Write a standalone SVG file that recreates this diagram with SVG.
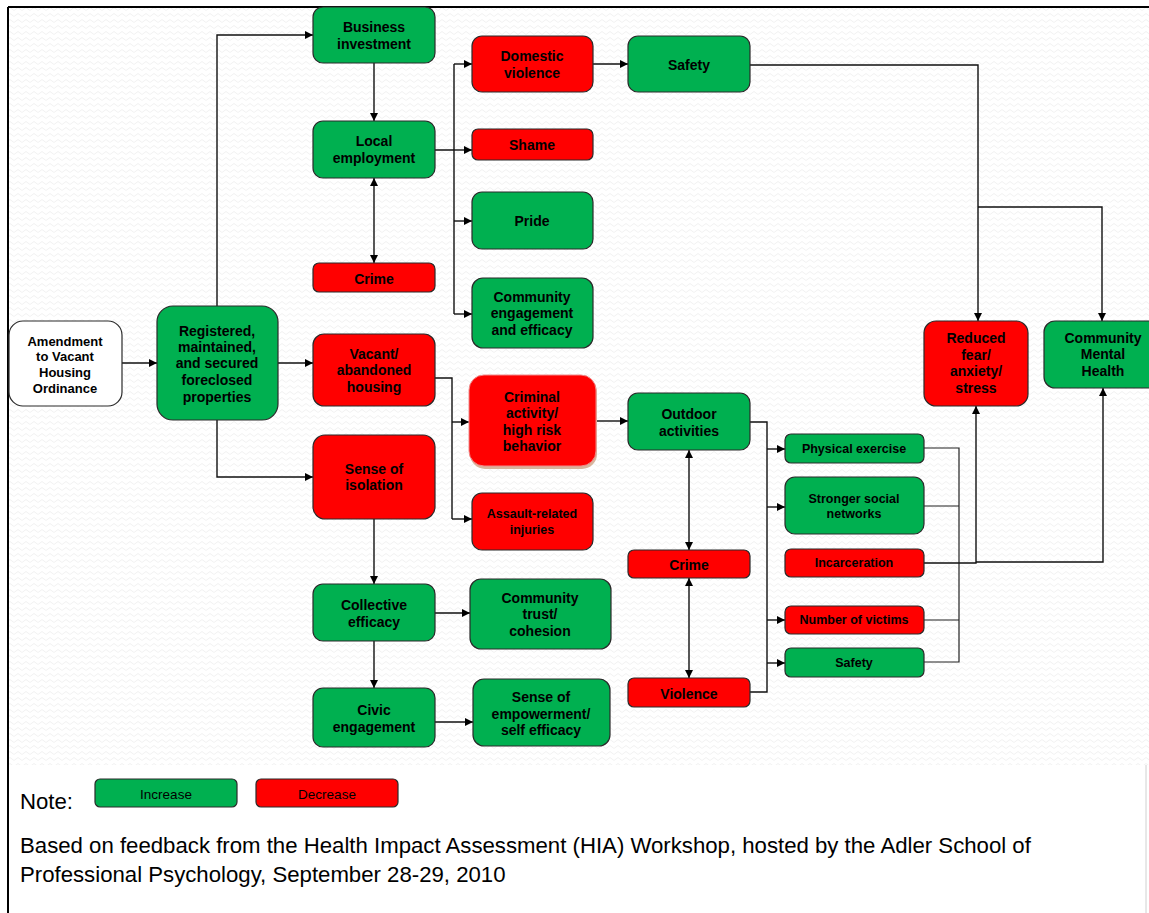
<svg xmlns="http://www.w3.org/2000/svg" width="1149" height="913" viewBox="0 0 1149 913">
<style>
.g{fill:#00B050;stroke:#2a2a2a;stroke-width:1.2}
.r{fill:#FF0000;stroke:#2a2a2a;stroke-width:1.2}
.w{fill:#ffffff;stroke:#2a2a2a;stroke-width:1.2}
text{font-family:"Liberation Sans",Arial,sans-serif;font-weight:bold;font-size:14px;fill:#000;text-anchor:middle;dominant-baseline:central}
.s{font-size:12.5px}
.m{font-size:13px}
.c path{fill:none;stroke:#111;stroke-width:1.4}
.c .t{stroke:#222;stroke-width:1.2}
.lg{font-weight:normal;font-size:13.5px}
.ft{font-weight:normal;font-size:22.2px;text-anchor:start;dominant-baseline:auto}
</style>
<defs>
<marker id="a" viewBox="0 0 10 10" refX="10" refY="5" markerWidth="9" markerHeight="8" markerUnits="userSpaceOnUse" orient="auto-start-reverse"><path d="M0,0 L10,5 L0,10 z" fill="#000"/></marker>
<pattern id="p" width="8" height="6" patternUnits="userSpaceOnUse"><path d="M0,3 Q2,0 4,3 T8,3" fill="none" stroke="#eeeeee" stroke-width="0.8"/></pattern>
</defs>
<rect x="0" y="0" width="1149" height="913" fill="#ffffff"/>
<rect x="9" y="8" width="1140" height="757" fill="url(#p)"/>
<path d="M8,7 H1149 M8,7 V913" fill="none" stroke="#000" stroke-width="2"/>
<path d="M1146,765 V913" fill="none" stroke="#d0d0d0" stroke-width="1"/>

<g class="c" id="connectors">
<path d="M122,363 H157" marker-end="url(#a)"/>
<path d="M278,363 H313" marker-end="url(#a)"/>
<path d="M217,306 V35 H313" marker-end="url(#a)"/>
<path d="M217,420 V477 H313" marker-end="url(#a)"/>
<path d="M374,63 V121" marker-end="url(#a)"/>
<path d="M374,178 V263" marker-start="url(#a)" marker-end="url(#a)"/>
<path d="M435,150 H454 M454,64 V314"/>
<path d="M454,64 H472" marker-end="url(#a)"/>
<path d="M454,150 H472" marker-end="url(#a)"/>
<path d="M454,221 H472" marker-end="url(#a)"/>
<path d="M454,314 H472" marker-end="url(#a)"/>
<path d="M435,378 H452 V519"/>
<path d="M452,422 H469" marker-end="url(#a)"/>
<path d="M452,519 H472" marker-end="url(#a)"/>
<path d="M593,64 H628" marker-end="url(#a)"/>
<path d="M750,65 H978 V321" marker-end="url(#a)"/>
<path d="M978,207 H1102 V321" marker-end="url(#a)"/>
<path d="M596,421 H628" marker-end="url(#a)"/>
<path d="M689,450 V550" marker-start="url(#a)" marker-end="url(#a)"/>
<path d="M689,578 V678" marker-start="url(#a)" marker-end="url(#a)"/>
<path d="M750,422 H767 V692 H750"/>
<path d="M767,449 H785" marker-end="url(#a)"/>
<path d="M767,507 H785" marker-end="url(#a)"/>
<path d="M767,620 H785" marker-end="url(#a)"/>
<path d="M767,663 H785" marker-end="url(#a)"/>
<path class="t" d="M924,448 H959 V662 H924 M924,506 H959 M924,620 H959"/>
<path d="M924,563 H976 V406" marker-end="url(#a)"/>
<path d="M976,562 H1103 V388" marker-end="url(#a)"/>
<path d="M374,519 V584" marker-end="url(#a)"/>
<path d="M435,613 H470" marker-end="url(#a)"/>
<path d="M374,641 V688" marker-end="url(#a)"/>
<path d="M435,722 H473" marker-end="url(#a)"/>
</g>

<g id="n-amendment"><rect class="w" x="9" y="321" width="113" height="85" rx="14"/><text class="m" x="65" y="341">Amendment</text><text class="m" x="65" y="356">to Vacant</text><text class="m" x="65" y="372">Housing</text><text class="m" x="65" y="388">Ordinance</text></g>
<g id="n-registered"><rect class="g" x="157" y="306" width="121" height="114" rx="16"/><text x="217" y="331">Registered,</text><text x="217" y="347">maintained,</text><text x="217" y="363">and secured</text><text x="217" y="380">foreclosed</text><text x="217" y="397">properties</text></g>
<g id="n-business"><rect class="g" x="313" y="7" width="122" height="56" rx="10"/><text x="374" y="27">Business</text><text x="374" y="44">investment</text></g>
<g id="n-local"><rect class="g" x="313" y="121" width="122" height="57" rx="10"/><text x="374" y="141">Local</text><text x="374" y="158">employment</text></g>
<g id="n-crime1"><rect class="r" x="313" y="263" width="122" height="29" rx="6"/><text x="374" y="279">Crime</text></g>
<g id="n-vacant"><rect class="r" x="313" y="334" width="122" height="72" rx="11"/><text x="374" y="354">Vacant/</text><text x="374" y="370">abandoned</text><text x="374" y="387">housing</text></g>
<g id="n-isolation"><rect class="r" x="313" y="435" width="122" height="84" rx="12"/><text x="374" y="469">Sense of</text><text x="374" y="485">isolation</text></g>
<g id="n-collective"><rect class="g" x="313" y="584" width="122" height="57" rx="10"/><text x="374" y="605">Collective</text><text x="374" y="622">efficacy</text></g>
<g id="n-civic"><rect class="g" x="313" y="688" width="122" height="59" rx="10"/><text x="374" y="710">Civic</text><text x="374" y="727">engagement</text></g>
<g id="n-domestic"><rect class="r" x="472" y="36" width="121" height="56" rx="10"/><text x="532" y="56">Domestic</text><text x="532" y="73">violence</text></g>
<g id="n-shame"><rect class="r" x="472" y="129" width="121" height="31" rx="6"/><text x="532" y="145">Shame</text></g>
<g id="n-pride"><rect class="g" x="472" y="192" width="121" height="57" rx="10"/><text x="532" y="221">Pride</text></g>
<g id="n-engagement"><rect class="g" x="472" y="278" width="121" height="70" rx="11"/><text x="532" y="297">Community</text><text x="532" y="313">engagement</text><text x="532" y="330">and efficacy</text></g>
<g id="n-criminal"><rect x="470" y="377" width="127" height="92" rx="15" fill="#d8b49c"/><rect x="469" y="375" width="127" height="91" rx="15" fill="#FF0000" stroke="#f08a8a" stroke-width="1"/><text x="532" y="397">Criminal</text><text x="532" y="413">activity/</text><text x="532" y="430">high risk</text><text x="532" y="446">behavior</text></g>
<g id="n-assault"><rect class="r" x="472" y="493" width="121" height="57" rx="10"/><text class="s" x="532" y="514">Assault-related</text><text class="s" x="532" y="530">injuries</text></g>
<g id="n-trust"><rect class="g" x="470" y="579" width="141" height="70" rx="11"/><text x="540" y="598">Community</text><text x="540" y="614">trust/</text><text x="540" y="631">cohesion</text></g>
<g id="n-empower"><rect class="g" x="473" y="679" width="137" height="67" rx="11"/><text x="541" y="697">Sense of</text><text x="541" y="714">empowerment/</text><text x="541" y="730">self efficacy</text></g>
<g id="n-safety1"><rect class="g" x="628" y="36" width="122" height="56" rx="10"/><text x="689" y="65">Safety</text></g>
<g id="n-outdoor"><rect class="g" x="628" y="393" width="122" height="57" rx="10"/><text x="689" y="414">Outdoor</text><text x="689" y="431">activities</text></g>
<g id="n-crime2"><rect class="r" x="628" y="550" width="122" height="28" rx="6"/><text x="689" y="565">Crime</text></g>
<g id="n-violence"><rect class="r" x="628" y="678" width="122" height="29" rx="6"/><text x="689" y="694">Violence</text></g>
<g id="n-exercise"><rect class="g" x="785" y="434" width="139" height="29" rx="6"/><text class="s" x="854" y="449">Physical exercise</text></g>
<g id="n-networks"><rect class="g" x="785" y="477" width="139" height="57" rx="10"/><text class="s" x="854" y="499">Stronger social</text><text class="s" x="854" y="514">networks</text></g>
<g id="n-incarceration"><rect class="r" x="785" y="549" width="139" height="28" rx="6"/><text class="s" x="854" y="563">Incarceration</text></g>
<g id="n-victims"><rect class="r" x="785" y="606" width="139" height="28" rx="6"/><text class="s" x="854" y="620">Number of victims</text></g>
<g id="n-safety2"><rect class="g" x="785" y="648" width="139" height="29" rx="6"/><text class="s" x="854" y="663">Safety</text></g>
<g id="n-reduced"><rect class="r" x="924" y="321" width="104" height="85" rx="12"/><text x="976" y="338">Reduced</text><text x="976" y="355">fear/</text><text x="976" y="371">anxiety/</text><text x="976" y="388">stress</text></g>
<g id="n-mental"><rect class="g" x="1044" y="321" width="118" height="67" rx="11"/><text x="1103" y="338">Community</text><text x="1103" y="354">Mental</text><text x="1103" y="371">Health</text></g>

<g id="legend">
<text class="ft" x="20" y="809">Note:</text>
<rect class="g" x="95" y="779" width="142" height="28" rx="5"/><text class="lg" x="166" y="794" fill="#1a1a1a">Increase</text>
<rect class="r" x="256" y="779" width="142" height="28" rx="5"/><text class="lg" x="327" y="794" fill="#222">Decrease</text>
</g>
<g id="footer">
<text class="ft" x="20" y="853">Based on feedback from the Health Impact Assessment (HIA) Workshop, hosted by the Adler School of</text>
<text class="ft" x="20" y="882">Professional Psychology, September 28-29, 2010</text>
</g>
</svg>
